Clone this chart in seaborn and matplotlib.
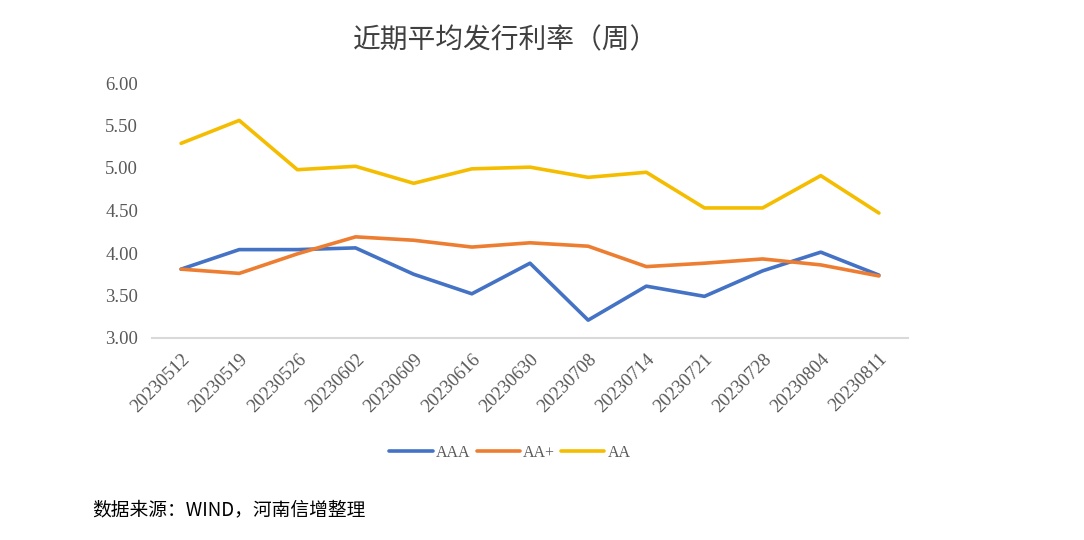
import pandas as pd
import matplotlib.pyplot as plt
import seaborn as sns

# 数据
dates = ['20230512', '20230519', '20230526', '20230602', '20230609', '20230616', '20230630',
         '20230708', '20230714', '20230721', '20230728', '20230804', '20230811']
aaa = [3.81, 4.04, 4.04, 4.06, 3.75, 3.52, 3.88, 3.21, 3.61, 3.49, 3.79, 4.01, 3.74]
aa_plus = [3.81, 3.76, 3.99, 4.19, 4.15, 4.07, 4.12, 4.08, 3.84, 3.88, 3.93, 3.86, 3.73]
aa = [5.29, 5.56, 4.98, 5.02, 4.82, 4.99, 5.01, 4.89, 4.95, 4.53, 4.53, 4.91, 4.47]
series = ['AAA', 'AA+', 'AA']
colors = ['#4472C4', '#ED7D31', '#F5BD00']

df = pd.DataFrame({'date': dates * 3,
                   'rate': aaa + aa_plus + aa,
                   'grade': [s for s in series for _ in dates]})

sns.set_style('white')
plt.rcParams['font.family'] = ['Noto Sans CJK SC', 'DejaVu Sans']
num_font = ['Liberation Serif', 'DejaVu Serif']

fig = plt.figure(figsize=(10.84, 5.4), dpi=100)
ax = fig.add_axes([152 / 1084, 1 - 338 / 540, (908 - 152) / 1084, (338 - 83) / 540])

sns.lineplot(data=df, x='date', y='rate', hue='grade', palette=colors, sort=False,
             linewidth=2.6, ax=ax)

ax.set_xlim(-0.5, len(dates) - 0.5)
ax.set_ylim(3, 6)
ax.set_yticks([3.0, 3.5, 4.0, 4.5, 5.0, 5.5, 6.0])
ax.set_yticklabels(['%.2f' % v for v in ax.get_yticks()], family=num_font, fontsize=13.5, color='#595959')
ax.set_xticks(range(len(dates)))
ax.set_xticklabels(dates, rotation=45, ha='right', rotation_mode='anchor',
                   family=num_font, fontsize=13.5, color='#595959')
ax.tick_params(axis='y', length=0, pad=10)
ax.tick_params(axis='x', length=0, pad=9)
ax.set_xlabel('')
ax.set_ylabel('')
for s in ['top', 'right', 'left']:
    ax.spines[s].set_visible(False)
ax.spines['bottom'].set_color('#D9D9D9')
ax.spines['bottom'].set_linewidth(1.5)

ax.legend(loc='center', bbox_to_anchor=(510 / 1084, 1 - 453 / 540), bbox_transform=fig.transFigure,
          ncol=3, frameon=False, handlelength=2.7, columnspacing=0.4, handletextpad=0.2,
          prop={'family': num_font, 'size': 11.5})
for t in ax.get_legend().get_texts():
    t.set_color('#595959')

fig.text(506 / 1084, 1 - 40 / 540, '近期平均发行利率（周）', ha='center', va='center',
         fontsize=20, color='#404040')
fig.text(92 / 1084, 1 - 510 / 540, '数据来源：WIND，河南信增整理', ha='left', va='center',
         fontsize=13.5, color='#000000')

fig.savefig('out.png', dpi=100)
